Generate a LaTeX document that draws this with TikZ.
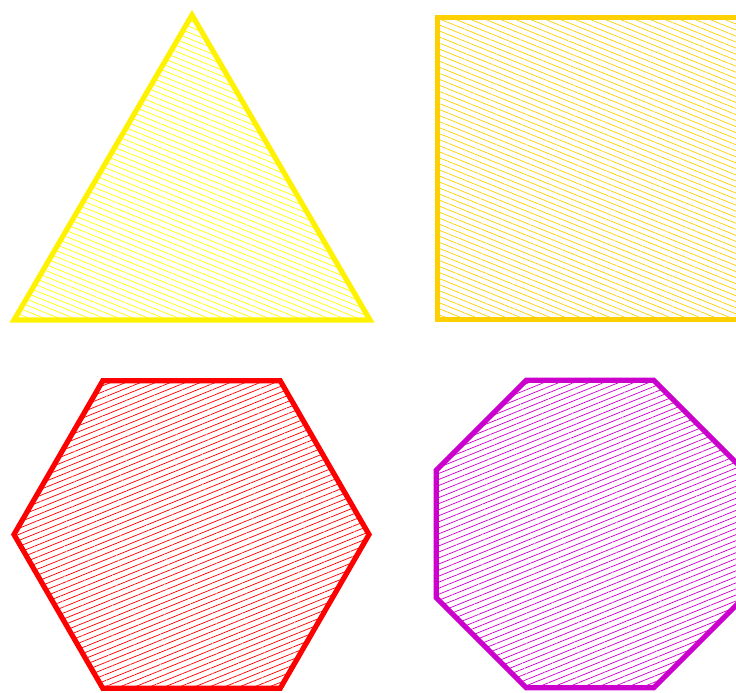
\documentclass[tikz,border=0pt]{standalone}
\usepackage{xcolor}
\usepackage{tikz}
\usetikzlibrary{patterns.meta, calc}
\definecolor{amber}{RGB}{255,208,0}
\definecolor{orchid}{RGB}{204,0,204}
\tikzset{
    outline/.style={line width=3.9pt, line join=miter},
    hatchdown/.style={pattern={Lines[angle=-22, distance=4.2pt, line width=0.55pt]}},
    hatchup/.style={pattern={Lines[angle=22, distance=4.2pt, line width=0.55pt]}}
}
\begin{document}
\begin{tikzpicture}[x=0.75pt, y=-0.75pt]
    \useasboundingbox (0,0) rectangle (736,693);
    \clip (0,0) rectangle (736,693);
    % top row
    \draw [outline, hatchdown, draw=yellow, pattern color=yellow] (192,15) -- (370,320) -- (14,320) -- cycle;
    \draw [outline, hatchdown, draw=amber, pattern color=amber] (437.5,17.5) rectangle (740,319.5);
    % bottom row
    \begin{scope}[shift={(191.5,534.5)}]
        \draw [outline, hatchup, draw=red, pattern color=red] (0:177.5) \foreach \a in {60,120,...,300} { -- (\a:177.5) } -- cycle;
    \end{scope}
    \begin{scope}[shift={(590,534)}]
        \draw [outline, hatchup, draw=orchid, pattern color=orchid] (22.5:166.5) \foreach \a in {67.5,112.5,...,337.5} { -- (\a:166.5) } -- cycle;
    \end{scope}
\end{tikzpicture}
\end{document}
